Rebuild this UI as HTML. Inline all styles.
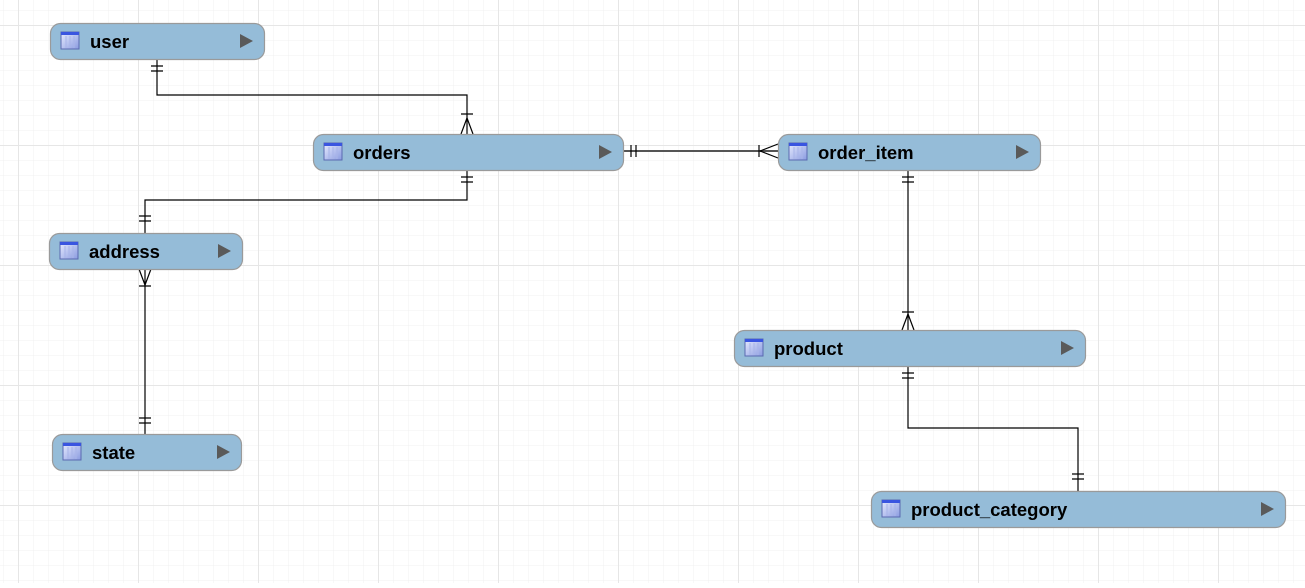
<!DOCTYPE html>
<html><head><meta charset="utf-8"><style>
html,body{margin:0;padding:0;background:#fff;}
body{width:1305px;height:583px;overflow:hidden;}
text{font-family:"Liberation Sans",sans-serif;font-weight:bold;font-size:18.5px;fill:#000;}
</style></head><body>
<svg width="1305" height="583" viewBox="0 0 1305 583" xmlns="http://www.w3.org/2000/svg">
<defs>
<pattern id="minor" width="15" height="15" patternUnits="userSpaceOnUse" x="3" y="10">
<path d="M0 0H15M0 0V15" stroke="#f0f0f0" stroke-width="1" fill="none"/>
</pattern>
<pattern id="major" width="120" height="120" patternUnits="userSpaceOnUse" x="18" y="25">
<path d="M0 0.5H120M0.5 0V120" stroke="#e6e6e6" stroke-width="1" fill="none"/>
</pattern>
<linearGradient id="ic" x1="0" y1="0" x2="1" y2="1">
<stop offset="0" stop-color="#e8ecff"/><stop offset="1" stop-color="#8a9be0"/>
</linearGradient>
<g id="icon">
<rect x="0" y="0" width="18" height="17" fill="url(#ic)" stroke="#5a6ab0" stroke-width="1"/>
<rect x="0" y="0" width="18" height="3" fill="#3a55e0"/>
<path d="M5 4V16M9 4V16M13 4V16" stroke="#a8b4e8" stroke-width="1"/>
</g>
</defs>
<rect width="1305" height="583" fill="url(#minor)"/>
<rect width="1305" height="583" fill="url(#major)"/>

<g stroke="#000" stroke-width="1.2" fill="none">
<path d="M157 59V95H467V134"/>
<path d="M151 66H163M151 71H163"/>
<path d="M461 114H473M467 118L461 134M467 118L473 134"/>
<path d="M467 170V200H145V233"/>
<path d="M461 177H473M461 182H473"/>
<path d="M139 216H151M139 221H151"/>
<path d="M145 269V434"/>
<path d="M139 286H151M145 285L139 269M145 285L151 269"/>
<path d="M139 418H151M139 423H151"/>
<path d="M623 151H778" stroke="#555" stroke-width="2"/>
<path d="M631 145V157M636 145V157"/>
<path d="M759 145V157M760 151L778 144M760 151L778 158"/>
<path d="M908 170V330"/>
<path d="M902 177H914M902 182H914"/>
<path d="M902 312H914M908 314L902 330M908 314L914 330"/>
<path d="M908 366V428H1078V491"/>
<path d="M902 373H914M902 378H914"/>
<path d="M1072 474H1084M1072 479H1084"/>
</g>

<g stroke="#9a9a9a" stroke-width="1.2" fill="#95bcd8">
<rect x="50.5" y="23.5" width="214" height="36" rx="10"/>
<rect x="313.5" y="134.5" width="310" height="36" rx="10"/>
<rect x="778.5" y="134.5" width="262" height="36" rx="10"/>
<rect x="49.5" y="233.5" width="193" height="36" rx="10"/>
<rect x="52.5" y="434.5" width="189" height="36" rx="10"/>
<rect x="734.5" y="330.5" width="351" height="36" rx="10"/>
<rect x="871.5" y="491.5" width="414" height="36" rx="10"/>
</g>

<use href="#icon" x="61" y="32"/>
<use href="#icon" x="324" y="143"/>
<use href="#icon" x="789" y="143"/>
<use href="#icon" x="60" y="242"/>
<use href="#icon" x="63" y="443"/>
<use href="#icon" x="745" y="339"/>
<use href="#icon" x="882" y="500"/>

<text x="90" y="48">user</text>
<text x="353" y="159">orders</text>
<text x="818" y="159">order_item</text>
<text x="89" y="258">address</text>
<text x="92" y="459">state</text>
<text x="774" y="355">product</text>
<text x="911" y="516">product_category</text>

<g fill="#5a5a5a">
<path d="M240 34L253 41L240 48Z"/>
<path d="M599 145L612 152L599 159Z"/>
<path d="M1016 145L1029 152L1016 159Z"/>
<path d="M218 244L231 251L218 258Z"/>
<path d="M217 445L230 452L217 459Z"/>
<path d="M1061 341L1074 348L1061 355Z"/>
<path d="M1261 502L1274 509L1261 516Z"/>
</g>
</svg>
</body></html>
